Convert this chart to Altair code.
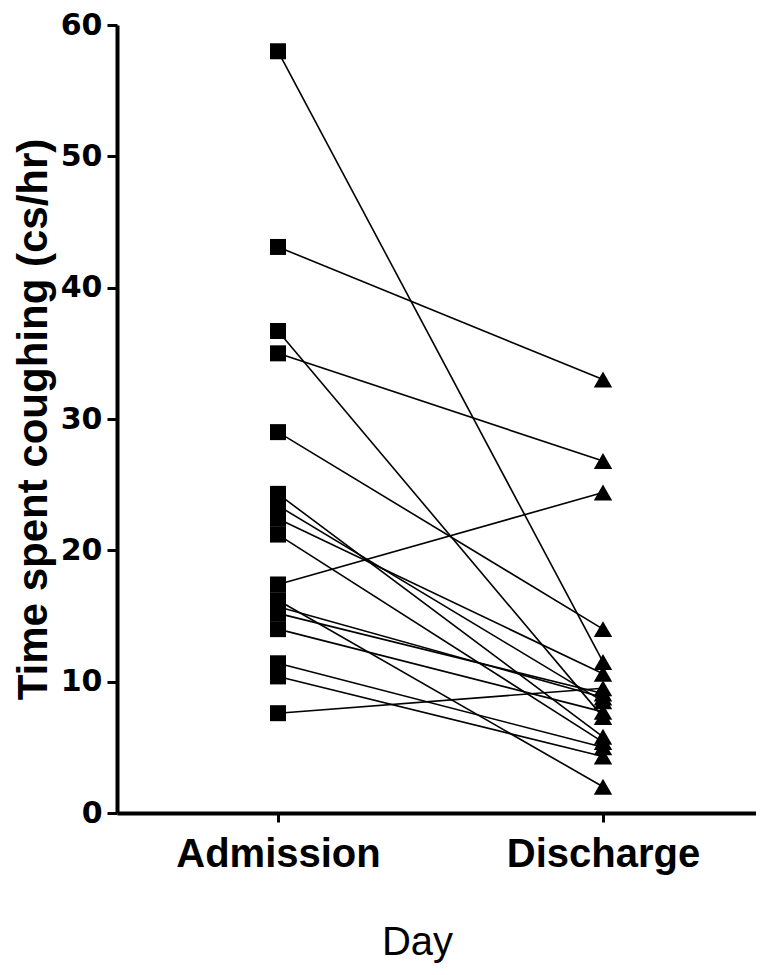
import altair as alt
import pandas as pd

days = ["Admission", "Discharge"]
admission = [58.0, 43.1, 36.7, 35.0, 29.0, 24.3, 23.4, 22.4, 21.2, 17.4,
             16.2, 15.7, 15.2, 14.0, 11.4, 10.4, 7.6]
discharge = [11.5, 33.0, 7.3, 26.8, 14.0, 5.8, 8.5, 10.6, 5.4, 24.4,
             2.0, 8.8, 9.1, 7.7, 5.0, 4.3, 9.5]
y_ticks = [0, 10, 20, 30, 40, 50, 60]
x_domain = [-0.4954, 1.4708]

rows = []
for i, (a, d) in enumerate(zip(admission, discharge), start=1):
    rows.append({"subject": i, "day": days[0], "idx": 0, "value": a})
    rows.append({"subject": i, "day": days[1], "idx": 1, "value": d})
df = pd.DataFrame(rows)

x = alt.X(
    "idx:Q",
    scale=alt.Scale(domain=x_domain, nice=False, zero=False),
    axis=alt.Axis(
        values=[0, 1],
        labelExpr="datum.value == 0 ? 'Admission' : 'Discharge'",
        title="Day", labelAngle=0, labelFontSize=40, labelFontWeight="bold",
        labelPadding=12, tickSize=9, tickWidth=3, labelLimit=400,
        labelFlush=False, labelOverlap=False,
        titleFontSize=40, titleFontWeight="normal",
        titleX=300, titleY=141, titleBaseline="alphabetic",
    ),
)
y = alt.Y(
    "value:Q",
    scale=alt.Scale(domain=[0, 60], nice=False, zero=True),
    axis=alt.Axis(
        values=y_ticks, title="Time spent coughing (cs/hr)",
        labelFont="DejaVu Sans", labelFontSize=30, labelFontWeight="bold",
        labelPadding=5, tickSize=10, tickWidth=3, grid=False,
        titleFontSize=42, titleFontWeight="bold",
        titleX=-62, titleY=394,
    ),
)

lines = alt.Chart(df).mark_line(color="black", strokeWidth=1.6).encode(
    x=x, y=y, detail="subject:N", order="idx:Q"
)
points = alt.Chart(df).mark_point(filled=True, color="black", opacity=1).encode(
    x=x,
    y=y,
    shape=alt.Shape("day:N", scale=alt.Scale(domain=days, range=["square", "triangle-up"]), legend=None),
    size=alt.Size("day:N", scale=alt.Scale(domain=days, range=[256, 340]), legend=None),
)

chart = (
    alt.layer(lines, points)
    .properties(
        width=639, height=788,
        padding={"left": 109, "top": 17, "right": 0, "bottom": 153},
        autosize=alt.AutoSizeParams(type="none"),
        background="white",
    )
    .configure_view(stroke=None)
    .configure_axis(
        domainColor="black", domainWidth=4, tickColor="black",
        labelColor="black", titleColor="black",
        labelFont="Liberation Sans", titleFont="Liberation Sans", grid=False,
    )
)

chart.save("out.html", embed_options={"renderer": "svg", "actions": False})
